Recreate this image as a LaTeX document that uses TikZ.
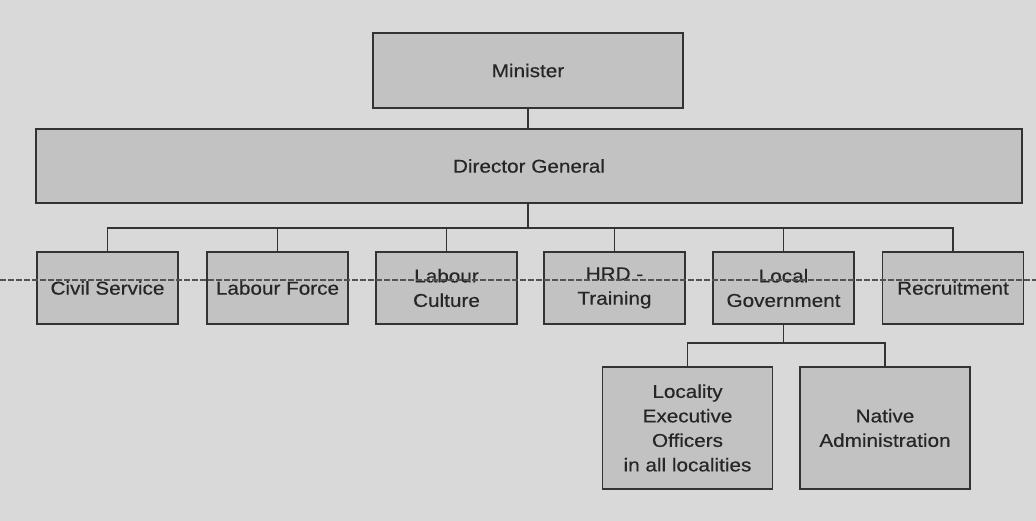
\documentclass[tikz,border=0pt]{standalone}
\usepackage{fontspec}
\setmainfont{Liberation Sans}[FakeStretch=1.12,FakeBold=0.4]
\definecolor{paper}{HTML}{D9D9D9}
\definecolor{boxfill}{HTML}{C2C2C2}
\definecolor{ink}{HTML}{333333}
\definecolor{txt}{HTML}{262626}
\begin{document}
\begin{tikzpicture}[x=1pt,y=-1pt,
  orgbox/.style={draw=ink, line width=1.8pt, fill=boxfill, rectangle,
    inner sep=2pt, align=center, text=txt,
    font=\fontsize{18.5}{24.5}\selectfont},
  unitbox/.style={orgbox, minimum width=141pt, minimum height=72pt},
  subbox/.style={orgbox, minimum width=170pt, minimum height=122pt},
  link/.style={draw=ink, line width=1.8pt}]
  % page
  \fill[paper] (0,0) rectangle (1036,521);
  \useasboundingbox (0,0) rectangle (1036,521);

  % top levels
  \node[orgbox, minimum width=310pt, minimum height=75pt] (min) at (528,70.5) {Minister};
  \node[orgbox, minimum width=986pt, minimum height=74pt] (dg) at (529,166) {Director General};

  % departments
  \node[unitbox] (cs)  at (107.5,288) {Civil Service};
  \node[unitbox] (lf)  at (277.5,288) {Labour Force};
  \node[unitbox] (lc)  at (446.5,288) {Labour\\Culture};
  \node[unitbox] (hrd) at (614.5,288) {HRD -\\Training};
  \node[unitbox] (lg)  at (783.5,288) {Local\\Government};
  \node[unitbox] (rec) at (953,288)   {Recruitment};

  % local government units
  \node[subbox] (leo) at (687.5,428) {Locality\\Executive\\Officers\\in all localities};
  \node[subbox] (na)  at (885,428)   {Native\\Administration};

  % connectors
  \draw[link] (min.south) -- (min.south |- dg.north);
  \coordinate (bus) at (529,228);
  \draw[link] (min.south |- dg.south) -- (min.south |- bus);
  \draw[link] (cs.north) -- (cs.north |- bus) -- (rec.north |- bus) -- (rec.north);
  \foreach \n in {lf,lc,hrd,lg}
    \draw[link] (\n.north) -- (\n.north |- bus);
  \coordinate (lgbus) at (786,343);
  \draw[link] (lg.south) -- (lg.south |- lgbus);
  \draw[link] (leo.north) -- (leo.north |- lgbus) -- (na.north |- lgbus) -- (na.north);

  % fold crease across the sheet
  \coordinate (foldL) at (0,280);
  \coordinate (foldR) at (1036,280);
  \draw[ink!85, line width=1.2pt, dash pattern=on 6pt off 2pt] (foldL) -- (foldR);
\end{tikzpicture}
\end{document}
